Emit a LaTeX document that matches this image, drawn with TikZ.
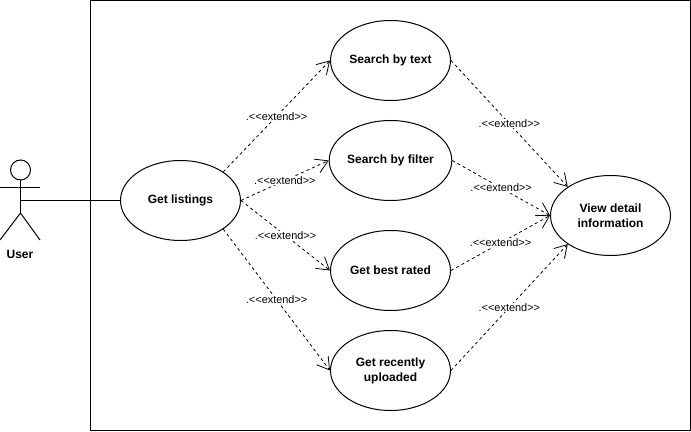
\documentclass[tikz,border=0pt]{standalone}
\usepackage{fontspec}
\setmainfont{Liberation Sans}
\usetikzlibrary{arrows.meta,shapes.geometric}
\newcommand{\extendtxt}{.<{}<extend>{}>}
\tikzset{
  boundary/.style={draw=black, line width=0.75pt},
  actorline/.style={draw=black, line width=0.75pt},
  usecase/.style={ellipse, draw=black, fill=white, line width=0.75pt, minimum width=90pt, minimum height=60pt, inner sep=0pt, align=center, font=\fontsize{9}{11.25}\selectfont\bfseries},
  extendline/.style={draw=black, line width=0.6pt, dash pattern=on 2.25pt off 2.25pt, -{Straight Barb[length=9pt,width=11pt]}},
  lab/.style={fill=white, inner sep=0.5pt, font=\fontsize{8.2}{9}\selectfont},
  actorlab/.style={font=\fontsize{9}{11}\selectfont\bfseries}
}
\begin{document}
\begin{tikzpicture}[x=0.75pt,y=-0.75pt]
  \useasboundingbox (0,0) rectangle (691,431);
  \draw[boundary] (90.5,0.5) rectangle (690.5,430.5);

  % Actor
  \coordinate (U) at (20.5,200.5);
  \draw[actorline] (20.5,170) circle (7.5pt);
  \draw[actorline] (20.5,180) -- (20.5,213);
  \draw[actorline] (0,187) -- (40,187);
  \draw[actorline] (0,240) -- (20.5,213) -- (40,240);
  \node[actorlab] (user) at (20,254) {User};

  % Use cases
  \node[usecase] (get) at (180.5,200.5) {Get listings};
  \node[usecase] (text) at (390.5,60.5) {Search by text};
  \node[usecase] (filter) at (390.5,160.5) {Search by filter};
  \node[usecase] (best) at (390.5,270.5) {Get best rated};
  \node[usecase] (recent) at (390.5,370.5) {Get recently\\uploaded};
  \node[usecase] (view) at (610.5,215.5) {View detail\\information};

  \draw[actorline] (U) -- (get.west);

  % Extend from listings
  \draw[extendline] (get.north east) -- (text.west) node[lab,midway] (l1) {\extendtxt};
  \draw[extendline] (get.east) -- (filter.west) node[lab,midway] (l2) {\extendtxt};
  \draw[extendline] (get.east) -- (best.west) node[lab,midway] (l3) {\extendtxt};
  \draw[extendline] (get.south east) -- (recent.west) node[lab,midway] (l4) {\extendtxt};

  % Extend to detail
  \draw[extendline] (text.east) -- (view.north west) node[lab,midway] (r1) {\extendtxt};
  \draw[extendline] (filter.east) -- (view.west) node[lab,midway] (r2) {\extendtxt};
  \draw[extendline] (best.east) -- (view.west) node[lab,midway] (r3) {\extendtxt};
  \draw[extendline] (recent.east) -- (view.south west) node[lab,midway] (r4) {\extendtxt};
\end{tikzpicture}
\end{document}
